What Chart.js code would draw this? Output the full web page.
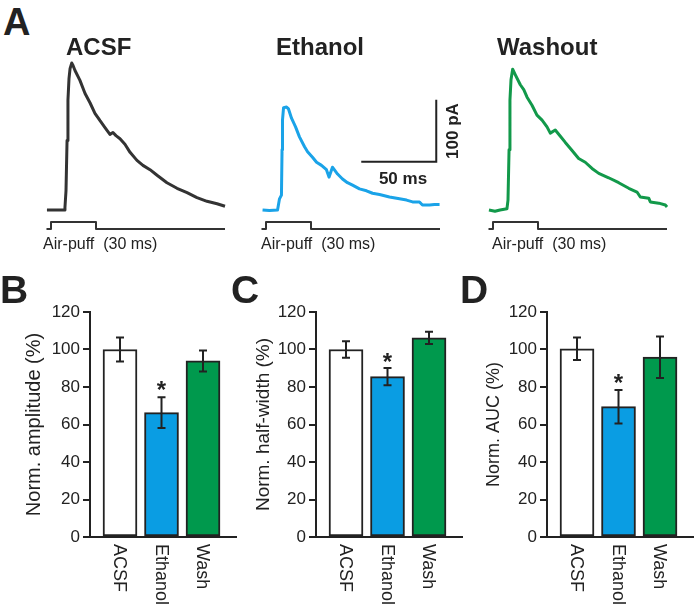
<!DOCTYPE html>
<html>
<head>
<meta charset="utf-8">
<script src="https://cdn.jsdelivr.net/npm/chart.js@4.4.0/dist/chart.umd.min.js"></script>
<style>
  body { margin: 0; background: #fff; }
  #fig { position: relative; width: 697px; height: 609px; overflow: hidden;
         font-family: "Liberation Sans", Arial, sans-serif; color: #222; }
  #fig canvas { position: absolute; }
  .txt { position: absolute; white-space: pre; line-height: 1; }
</style>
</head>
<body>
<div id="fig">
  <canvas id="traceAcsf" width="200" height="200" style="left:42px;top:40px"></canvas>
  <canvas id="traceEth" width="200" height="200" style="left:257px;top:40px"></canvas>
  <canvas id="traceWash" width="200" height="200" style="left:484px;top:40px"></canvas>
  <canvas id="barAmp" width="240" height="319" style="left:0px;top:290px"></canvas>
  <canvas id="barHw" width="240" height="319" style="left:226px;top:290px"></canvas>
  <canvas id="barAuc" width="240" height="319" style="left:457px;top:290px"></canvas>
</div>
<script>
// Panel A traces: time in ms from puff onset, current in pA (inward drawn upward)
const acsfT = [-2.7, 8.7, 9.3, 10, 10.7, 11.3, 12, 12.7, 13.8, 14.7, 16, 19.3, 22.7, 26, 29.3, 32.7, 36, 39.3, 41.3, 43.3,
               46, 49.3, 52.7, 57.3, 61.3, 66, 70.7, 77.3, 84, 90.7, 97.3, 104, 110.7, 116];
const acsfI = [0, 0, 4, 31, 112, 177, 212, 228, 237, 233, 225, 209, 188, 173, 156, 144, 133, 122, 125, 120,
               115, 106, 93, 80, 72, 65, 56, 44, 35, 28, 20, 14, 10, 6];

const ethT = [-2.3, 2.3, 7.7, 9, 10.3, 10.7, 11, 11.7, 13.7, 15, 17, 19.7, 22.3, 25.7, 27.7, 31, 33.7, 37, 40.3, 42,
              44.3, 47.7, 51, 54.3, 57.7, 62.3, 67, 71, 75.7, 82.3, 89, 93.7, 97.7, 102.3, 104.3, 109, 112.3, 115.7];
const ethI = [0, -1, 0, 18, 24, 97, 145, 165, 166, 163, 148, 134, 118, 102, 94, 85, 77, 72, 65, 53,
              69, 58, 50, 44, 40, 34, 31, 27, 25, 21, 18, 16, 13, 13, 8, 8, 9, 9];

const washT = [-2.7, 1.3, 4.7, 9.3, 10, 10.7, 11.3, 12, 13.1, 14.9, 18.2, 20.5, 22.7, 26, 29.3, 32.7, 36, 38.2, 41.5, 44.9,
               48.2, 52.7, 57.1, 61.5, 66, 70.5, 77.1, 83.8, 90.5, 96, 98.2, 103.8, 104.9, 110.5, 114.9, 116];
const washI = [0, -2, 0, 2, 16, 97, 177, 210, 227, 218, 202, 194, 182, 169, 153, 145, 134, 124, 129, 119,
               109, 96, 83, 77, 67, 59, 52, 44, 35, 29, 21, 19, 13, 11, 8, 5];

// Air-puff command (30 ms)
const puffT = [-3, 0, 0, 30, 30, 116];
const puffOn = [0, 0, 1, 1, 0, 0];

// Scale bar: 50 ms, 100 pA
const scaleBarT = [63.5, 113.5, 113.5];
const scaleBarI = [78, 78, 178];

// Panels B-D (mean, error in %)
const groups = ['ACSF', 'Ethanol', 'Wash'];
const ampMean = [100, 66.3, 93.9];
const ampErr = [6.4, 8.2, 5.6];
const hwMean = [100, 85.5, 106.2];
const hwErr = [4.4, 4.6, 3.3];
const aucMean = [100.4, 69.5, 95.9];
const aucErr = [6, 8.9, 11.1];
const starAt = [81, 96, 85];
const yTicks = [0, 20, 40, 60, 80, 100, 120];

const ink = '#222';
const fontFamily = '"Liberation Sans", Arial, sans-serif';
const barFill = ['#ffffff', '#0a9de3', '#00994d'];
const fig = document.getElementById('fig');

function pts(xs, ys) {
    return xs.map((v, k) => ({ x: v, y: ys[k] }));
}

function traceChart(id, t, i, color, extra) {
    const datasets = [
        { data: pts(t, i), borderColor: color, borderWidth: 3, yAxisID: 'y' },
        { data: pts(puffT, puffOn), borderColor: '#333', borderWidth: 2, yAxisID: 'yPuff' }
    ];
    if (extra) datasets.push(extra);
    return new Chart(document.getElementById(id), {
        type: 'line',
        data: { datasets },
        options: {
            responsive: false,
            animation: false,
            elements: { point: { radius: 0 }, line: { tension: 0, borderJoinStyle: 'round' } },
            layout: { padding: 0 },
            plugins: { legend: { display: false }, tooltip: { enabled: false } },
            scales: {
                x: { type: 'linear', display: false, min: -6, max: 127.33 },
                y: { type: 'linear', display: false, min: -48.4, max: 274.2 },
                yPuff: { type: 'linear', axis: 'y', display: false, min: -1.571, max: 27 }
            }
        }
    });
}

traceChart('traceAcsf', acsfT, acsfI, '#333333');
traceChart('traceEth', ethT, ethI, '#1aa3e8', {
    data: pts(scaleBarT, scaleBarI), borderColor: ink, borderWidth: 2, yAxisID: 'y',
    borderJoinStyle: 'miter'
});
traceChart('traceWash', washT, washI, '#12994a');

function barChart(id, title, mean, err, star, titlePad, titleSize) {
    const decor = {
        id: 'decor',
        afterDatasetsDraw(chart) {
            const { ctx, chartArea } = chart;
            const x = chart.scales.x, y = chart.scales.y;
            ctx.save();
            // error bars
            ctx.strokeStyle = ink;
            ctx.lineWidth = 2;
            mean.forEach((m, k) => {
                const px = x.getPixelForValue(k + 1);
                const top = y.getPixelForValue(m + err[k]);
                const bot = y.getPixelForValue(m - err[k]);
                ctx.beginPath();
                ctx.moveTo(px, top); ctx.lineTo(px, bot);
                ctx.moveTo(px - 4, top); ctx.lineTo(px + 4, top);
                ctx.moveTo(px - 4, bot); ctx.lineTo(px + 4, bot);
                ctx.stroke();
            });
            // significance star over Ethanol
            ctx.fillStyle = ink;
            ctx.font = 'bold 24px ' + fontFamily;
            ctx.textAlign = 'center';
            ctx.textBaseline = 'alphabetic';
            ctx.fillText('*', x.getPixelForValue(2), y.getPixelForValue(star) + 13);
            // group names, rotated clockwise
            ctx.font = '18px ' + fontFamily;
            ctx.textAlign = 'left';
            ctx.textBaseline = 'middle';
            groups.forEach((g, k) => {
                ctx.save();
                ctx.translate(x.getPixelForValue(k + 1) - 1, chartArea.bottom + 7);
                ctx.rotate(Math.PI / 2);
                ctx.fillText(g, 0, 0);
                ctx.restore();
            });
            ctx.restore();
        }
    };
    return new Chart(document.getElementById(id), {
        type: 'bar',
        data: {
            datasets: [{
                data: mean.map((m, k) => ({ x: k + 1, y: m })),
                backgroundColor: barFill,
                borderColor: ink,
                borderWidth: 2,
                borderSkipped: false,
                barThickness: 34
            }]
        },
        options: {
            responsive: false,
            animation: false,
            layout: { padding: { top: 22, right: 4, left: 0, bottom: 0 } },
            plugins: { legend: { display: false }, tooltip: { enabled: false } },
            scales: {
                x: {
                    type: 'linear', min: 0.277, max: 3.795, offset: false,
                    grid: { display: false },
                    ticks: { display: false },
                    border: { display: true, color: ink, width: 2 },
                    afterFit: s => { s.height = 72; }
                },
                y: {
                    min: 0, max: 120,
                    afterBuildTicks: s => { s.ticks = yTicks.map(v => ({ value: v })); },
                    ticks: { color: ink, padding: 3, font: { family: fontFamily, size: 17 } },
                    grid: { drawOnChartArea: false, drawTicks: true, tickLength: 7, color: ink, lineWidth: 2 },
                    border: { display: true, color: ink, width: 2 },
                    title: {
                        display: true, text: title, color: ink,
                        font: { family: fontFamily, size: titleSize },
                        padding: { top: titlePad, bottom: 0 }
                    },
                    afterFit: s => { s.width = 90; }
                }
            }
        },
        plugins: [decor]
    });
}

barChart('barAmp', 'Norm. amplitude (%)', ampMean, ampErr, starAt[0], 22, 20);
barChart('barHw', 'Norm. half-width (%)', hwMean, hwErr, starAt[1], 26, 19);
barChart('barAuc', 'Norm. AUC (%)', aucMean, aucErr, starAt[2], 26, 18);

// text annotations
function addText(text, x, baseline, size, opts = {}) {
    const el = document.createElement('div');
    el.className = 'txt';
    el.textContent = text;
    el.style.fontSize = size + 'px';
    if (opts.bold) el.style.fontWeight = 'bold';
    el.style.left = x + 'px';
    el.style.top = (baseline - 0.8465 * size) + 'px';
    if (opts.center) el.style.transform = 'translateX(-50%)';
    fig.appendChild(el);
    return el;
}

addText('A', 3, 35, 38, { bold: true });
addText('B', 0, 303, 39, { bold: true });
addText('C', 231, 303, 39, { bold: true });
addText('D', 460, 303, 39, { bold: true });

addText('ACSF', 66, 55, 24, { bold: true });
addText('Ethanol', 276, 55, 24, { bold: true });
addText('Washout', 497, 55, 24, { bold: true });

addText('Air-puff  (30 ms)', 43, 250, 16);
addText('Air-puff  (30 ms)', 261, 250, 16);
addText('Air-puff  (30 ms)', 492, 250, 16);

addText('50 ms', 403, 184, 17, { bold: true, center: true });
const pa = document.createElement('div');
pa.className = 'txt';
pa.textContent = '100 pA';
pa.style.fontSize = '17px';
pa.style.fontWeight = 'bold';
pa.style.left = '452px';
pa.style.top = '131px';
pa.style.transform = 'translate(-50%, -50%) rotate(-90deg)';
fig.appendChild(pa);
</script>
</body>
</html>
